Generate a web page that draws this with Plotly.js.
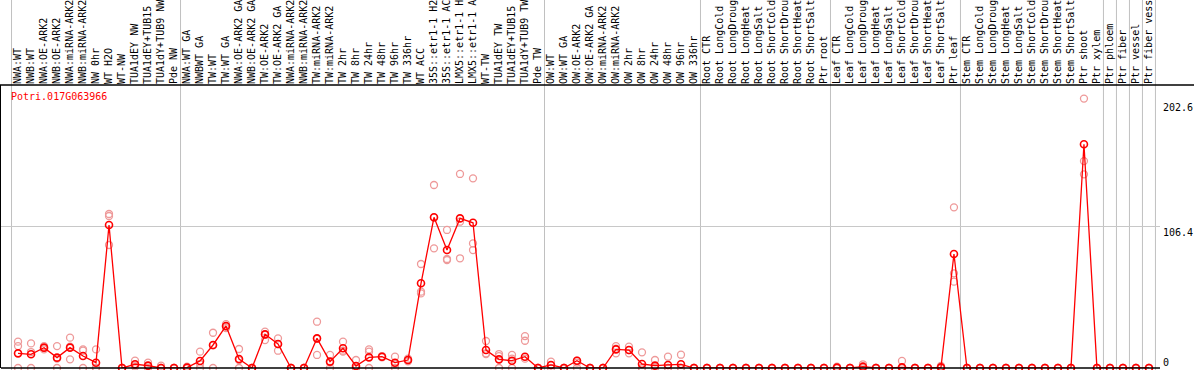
<!DOCTYPE html>
<html>
<head>
<meta charset="utf-8">
<script src="https://cdn.plot.ly/plotly-3.0.1.min.js"></script>
<style>html,body{margin:0;padding:0;background:#fff;}#chart{width:1194px;height:370px;}</style>
</head>
<body>
<div id="chart"></div>
<script>
const geneId = "Potri.017G063966";

const categories = [
  "NWA:WT","NWB:WT","NWA:OE-ARK2","NWB:OE-ARK2","NWA:miRNA-ARK2","NWB:miRNA-ARK2","NW 0hr","WT H2O","WT-NW",
  "TUA1dEY NW","TUA1dEY+TUB15","TUA1dY+TUB9 NW","Pde NW",
  "NWA:WT GA","NWBWT GA","TW:WT","TW:WT GA","NWA:OE-ARK2 GA","NWB:OE-ARK2 GA","TW:OE-ARK2","TW:OE-ARK2 GA",
  "NWA:miRNA-ARK2","NWB:miRNA-ARK2","TW:miRNA-ARK2","TW:miRNA-ARK2","TW 2hr","TW 8hr","TW 24hr","TW 48hr","TW 96hr","TW 336hr",
  "WT ACC","35S::etr1-1 H2","35S::etr1-1 AC","LMX5::etr1-1 H","LMX5::etr1-1 A","WT-TW","TUA1dEY TW","TUA1dEY+TUB15","TUA1dY+TUB9 TW","Pde TW",
  "OW:WT","OW:WT GA","OW:OE-ARK2","OW:OE-ARK2 GA","OW:miRNA-ARK2","OW:miRNA-ARK2","OW 2hr","OW 8hr","OW 24hr","OW 48hr","OW 96hr","OW 336hr",
  "Root CTR","Root LongCold","Root LongDroug","Root LongHeat","Root LongSalt","Root ShortCold","Root ShortDrou","Root ShortHeat","Root ShortSalt","Ptr root",
  "Leaf CTR","Leaf LongCold","Leaf LongDroug","Leaf LongHeat","Leaf LongSalt","Leaf ShortCold","Leaf ShortDrou","Leaf ShortHeat","Leaf ShortSalt","Ptr leaf",
  "Stem CTR","Stem LongCold","Stem LongDroug","Stem LongHeat","Stem LongSalt","Stem ShortCold","Stem ShortDrou","Stem ShortHeat","Stem ShortSalt","Ptr shoot",
  "Ptr xylem","Ptr phloem","Ptr fiber","Ptr vessel","Ptr fiber vess"
];

const meanValues = [
  11.0,10.3,15.3,7.8,15.3,9.0,4.0,107.5,0,
  2.8,1.8,0,0,
  0.3,5.3,17.3,31.6,6.8,0,25.3,18,
  0,0,22.3,4.8,14.8,1.5,8,8.5,4.0,6,
  63.7,113.3,88.7,112.5,109.2,13.5,6.5,5.5,8.5,0,
  2.3,0,5.5,0,0,14,13.5,3,1.8,2.3,2.8,0,
  0,0,0,0,0,0,0,0,0,0,
  0.3,0,1,0,0,0.5,0,0,0.5,85.7,
  0,0,0,0,0,0,0,0,0,168.2,
  0,0,0,0,0
];

const rep1 = [
  19.8,18.5,16.5,16.5,22.8,14,14,115.8,0,
  5.5,4,1.8,0,
  1,12.3,26.5,33,14.3,0,27.3,22.3,
  0,0,34.8,9.8,19.8,6,14,8.5,8.5,5,
  78.2,137.6,103.8,145.9,142.6,20.3,10.5,9.8,24,0,
  4.8,0,5.5,0,0,16.5,16,11.8,6,8.5,10,0,
  0,0,0,0,0,0,0,0,0,0,
  1,0,2.8,0,0,5.3,0,0,1.5,120.8,
  0,0,0,0,0,0,0,0,0,202.6,
  0,0,0,0,0
];

const rep2 = [
  16.5,12,15,7,6.5,13,0,114.3,0,
  2,1.5,0,0,
  0,3,17,31,6,0,21,13,
  0,0,9.8,4,12.3,0,12.3,8,3,6,
  57.4,113,81.2,110,93.7,10.5,9,7,20.5,0,
  2,0,4,0,0,11,11,0,0,0,0,0,
  0,0,0,0,0,0,0,0,0,0,
  0,0,0,0,0,0,0,0,0,71.2,
  0,0,0,0,0,0,0,0,0,155.6,
  0,0,0,0,0
];

const rep3 = [
  0,0,14,0,16,0,0,92.5,0,
  1,0,0,0,
  0,0,0,30,0,0,25,18,
  0,0,22,0,13,0,0,9,0,7,
  56.1,90,82,82.5,88.7,11,0,0,7,0,
  0,0,0,0,0,14.5,13.5,0,0,0,0,0,
  0,0,0,0,0,0,0,0,0,0,
  0,0,0,0,0,0,0,0,0,64.9,
  0,0,0,0,0,0,0,0,0,145.6,
  0,0,0,0,0
];

const yAxisLabels = ["202.6","106.4","0"];
const yAxisLabelValues = [202.6, 106.4, 0];
const groupBoundaries = [-0.5, 12.5, 40.5, 52.5, 62.5, 72.5, 83.5, 84.5, 85.5, 86.5, 87.5];

const idx = categories.map((_, i) => i);
const repX = [].concat(idx, idx, idx);
const repY = [].concat(rep1, rep2, rep3);

const traces = [
  {
    x: repX, y: repY, type: 'scatter', mode: 'markers', cliponaxis: false,
    marker: {symbol: 'circle-open', size: 7, color: '#ee9999', line: {width: 1.3, color: '#ee9999'}},
    hoverinfo: 'skip', showlegend: false
  },
  {
    x: idx, y: meanValues, type: 'scatter', mode: 'lines+markers', cliponaxis: false,
    line: {color: '#ff0000', width: 1.3},
    marker: {symbol: 'circle-open', size: 7, color: '#ff0000', line: {width: 1.6, color: '#ff0000'}},
    showlegend: false
  }
];

const shapes = groupBoundaries.map(b => ({
  type: 'line', xref: 'x', yref: 'paper', x0: b, x1: b, y0: -0.01, y1: 1.31,
  line: {color: '#c0c0c0', width: 1}, layer: 'below'
}));
shapes.push({type: 'line', xref: 'paper', yref: 'paper', x0: -0.01, x1: 1.04, y0: 1, y1: 1, line: {color: '#000', width: 1.5}});
shapes.push({type: 'line', xref: 'paper', yref: 'paper', x0: 0, x1: 1, y0: 0, y1: 0, line: {color: '#000', width: 1.5}});

const yShifts = [-8.5, -6, 6];
const annotations = yAxisLabels.map((t, k) => ({
  text: t, xref: 'paper', x: 1, xanchor: 'left', xshift: 1,
  yref: 'y', y: yAxisLabelValues[k], yanchor: 'middle', yshift: yShifts[k],
  showarrow: false, font: {family: 'DejaVu Sans Mono', size: 10, color: '#000'}
}));
annotations.push({
  text: geneId, xref: 'paper', yref: 'paper', x: 0.007, y: 0.958, xanchor: 'left', yanchor: 'middle',
  showarrow: false, font: {family: 'DejaVu Sans Mono', size: 10, color: '#ff0000'}
});

const layout = {
  width: 1194, height: 370,
  margin: {l: 1, r: 34, t: 85, b: 2, pad: 0},
  paper_bgcolor: '#fff', plot_bgcolor: '#fff',
  showlegend: false,
  xaxis: {
    side: 'top', range: [-1.31, 87.85], tickmode: 'array', tickvals: idx, ticktext: categories,
    tickangle: -90, tickfont: {family: 'DejaVu Sans Mono', size: 10, color: '#000'},
    showgrid: false, zeroline: false, showline: false, ticks: '', automargin: false
  },
  yaxis: {
    range: [0, 212.8], tickmode: 'array', tickvals: [106.4], showticklabels: false,
    showgrid: true, gridcolor: '#c8c8c8', gridwidth: 1, zeroline: false,
    showline: true, linecolor: '#000', linewidth: 1.5, ticks: '', automargin: false
  },
  shapes: shapes,
  annotations: annotations
};

Plotly.newPlot('chart', traces, layout, {staticPlot: true, displayModeBar: false});
</script>
</body>
</html>
